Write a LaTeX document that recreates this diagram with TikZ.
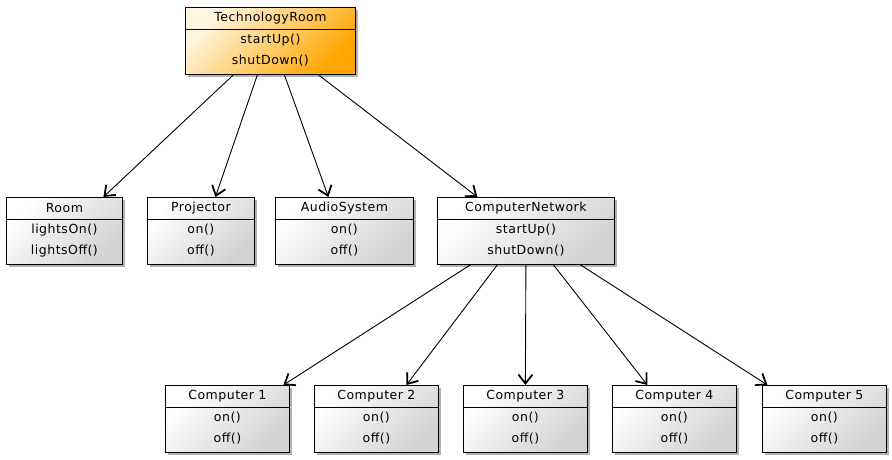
\documentclass[tikz,border=0pt]{standalone}
\usepackage{fontspec}
\setmainfont{DejaVu Sans}[LetterSpace=4]
\usetikzlibrary{arrows.meta,shadows,calc}

\definecolor{classgray}{RGB}{210, 210, 210}
\definecolor{classorange}{RGB}{255, 166, 0}
\definecolor{orangelight}{RGB}{255, 246, 226}

% klasa UML: [styl] nazwa, lewy górny róg, szerokość, nazwa klasy, metoda 1, metoda 2
\newcommand{\umlclass}[7][grayfill]{%
    \node[classbox, #1, minimum width=#4, anchor=north west] (#2) at (#3) {};
    \draw[thin] ($(#2.north west)+(0,-22.5)$) -- ($(#2.north east)+(0,-22.5)$);
    \node[classtext] (#2-title) at ($(#2.north)+(0,-11.5)$) {#5};
    \node[classtext] (#2-m1)    at ($(#2.north)+(0,-33)$)   {#6};
    \node[classtext] (#2-m2)    at ($(#2.north)+(0,-54)$)   {#7};
}

\begin{document}
\begin{tikzpicture}[x=1pt, y=1pt, >={Straight Barb[length=9pt, width=14pt, line width=1.8pt]},
        classbox/.style={rectangle, draw, line width=0.8pt, minimum height=67pt, inner sep=0pt,
            drop shadow={shadow xshift=2.5pt, shadow yshift=-2.5pt, fill=black, opacity=0.3}},
        grayfill/.style={top color=white, bottom color=classgray, shading angle=45},
        orangefill/.style={top color=orangelight, bottom color=classorange, shading angle=45},
        classtext/.style={font=\fontsize{12.5}{14}\selectfont, inner sep=0pt},
        dep/.style={->, line width=0.9pt}]

    \useasboundingbox (0,0) rectangle (892,-459);

    % --- klasa główna ---
    \umlclass[orangefill]{tr}{185,-7}{170pt}{TechnologyRoom}{startUp()}{shutDown()}

    % --- drugi poziom ---
    \umlclass{room}{6,-197}{116pt}{Room}{lightsOn()}{lightsOff()}
    \umlclass{proj}{147,-197}{107pt}{Projector}{on()}{off()}
    \umlclass{audio}{275,-197}{138pt}{AudioSystem}{on()}{off()}
    \umlclass{net}{437,-197}{177pt}{ComputerNetwork}{startUp()}{shutDown()}

    % --- komputery ---
    \umlclass{pc1}{165,-385}{124pt}{Computer 1}{on()}{off()}
    \umlclass{pc2}{314,-385}{124pt}{Computer 2}{on()}{off()}
    \umlclass{pc3}{463,-385}{124pt}{Computer 3}{on()}{off()}
    \umlclass{pc4}{612,-385}{124pt}{Computer 4}{on()}{off()}
    \umlclass{pc5}{762,-385}{124pt}{Computer 5}{on()}{off()}

    % --- zależności od TechnologyRoom ---
    \draw[dep] ([xshift=-37pt]tr.south) -- ([xshift=39pt]room.north);
    \draw[dep] ([xshift=-13pt]tr.south) -- ([xshift=14.5pt]proj.north);
    \draw[dep] ([xshift=14pt]tr.south)  -- ([xshift=-16pt]audio.north);
    \draw[dep] ([xshift=48pt]tr.south)  -- ([xshift=-48.5pt]net.north);

    % --- zależności od ComputerNetwork ---
    \draw[dep] ([xshift=-55.5pt]net.south) -- ([xshift=56pt]pc1.north);
    \draw[dep] ([xshift=-28.5pt]net.south) -- ([xshift=30pt]pc2.north);
    \draw[dep] (net.south)                 -- (pc3.north);
    \draw[dep] ([xshift=27.5pt]net.south)  -- ([xshift=-27pt]pc4.north);
    \draw[dep] ([xshift=54.5pt]net.south)  -- ([xshift=-57pt]pc5.north);

\end{tikzpicture}
\end{document}
